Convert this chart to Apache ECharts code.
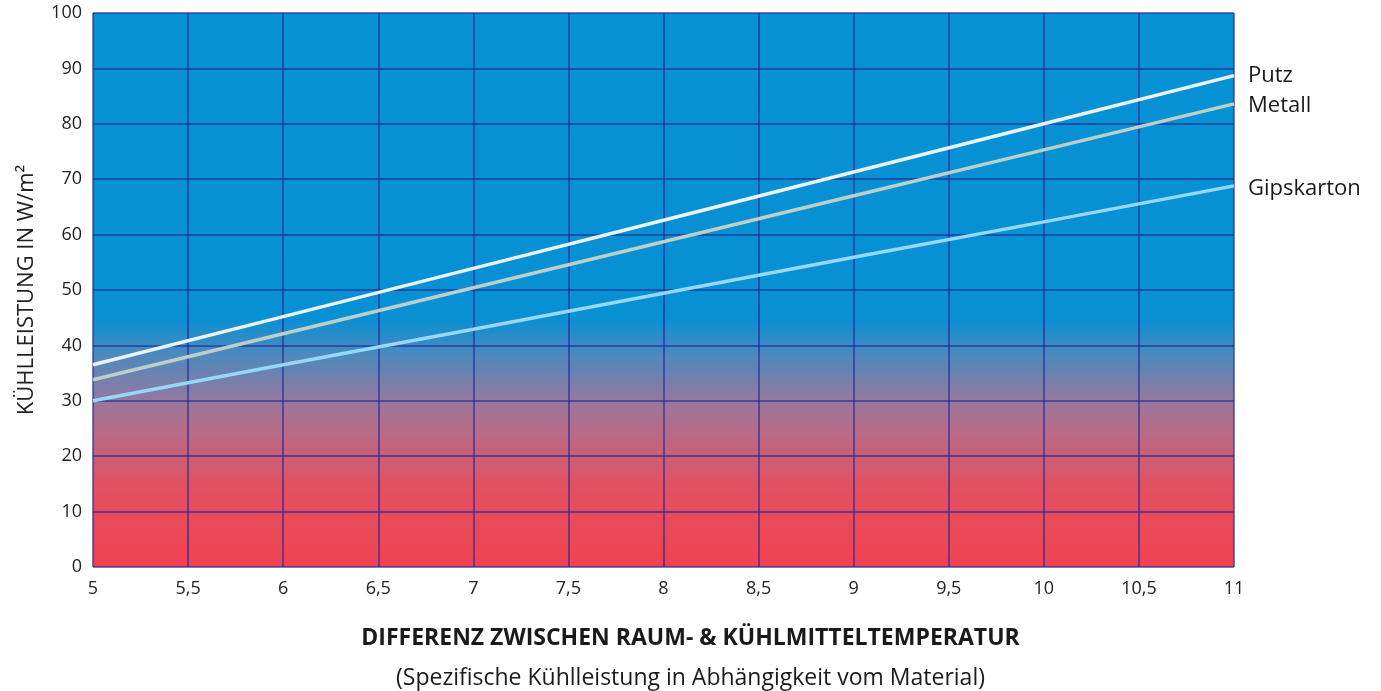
<!DOCTYPE html>
<html>
<head>
<meta charset="utf-8">
<script src="https://cdn.jsdelivr.net/npm/echarts@6/dist/echarts.min.js"></script>
<style>html,body{margin:0;padding:0;background:#fff;}#c{width:1381px;height:691px;}</style>
</head>
<body>
<div id="c"></div>
<script>
const xValues = [5, 6, 7, 8, 9, 10, 11];
const putz = [36.5, 45.2, 53.9, 62.6, 71.3, 80.0, 88.7];
const metall = [33.8, 42.1, 50.4, 58.7, 67.0, 75.3, 83.6];
const gipskarton = [30.0, 36.5, 42.9, 49.4, 55.9, 62.3, 68.8];
const seriesNames = ['Putz', 'Metall', 'Gipskarton'];
const xTitle = 'DIFFERENZ ZWISCHEN RAUM- & KÜHLMITTELTEMPERATUR';
const subTitle = '(Spezifische Kühlleistung in Abhängigkeit vom Material)';
const yTitle = 'KÜHLLEISTUNG IN W/m²';

const FONT = '"Open Sans", Lato, sans-serif';
const chart = echarts.init(document.getElementById('c'));
function pairs(arr){ return xValues.map((x,i)=>[x, arr[i]]); }
const lineColors = ['#eaf3fa', '#bccfc8', '#95d8f8'];
const dataSets = [putz, metall, gipskarton];

chart.setOption({
  animation: false,
  grid: {
    left: 93, right: 147, top: 13, bottom: 124,
    containLabel: false, outerBoundsMode: 'none',
    show: true, borderWidth: 0,
    backgroundColor: {
      type: 'linear', x: 0, y: 0, x2: 0, y2: 1,
      colorStops: [
        {offset: 0, color: '#0792d6'},
        {offset: 0.55, color: '#0790d3'},
        {offset: 0.62, color: '#4f89bd'},
        {offset: 0.72, color: '#a57494'},
        {offset: 0.85, color: '#e25263'},
        {offset: 1, color: '#f1414f'}
      ]
    }
  },
  title: [
    {text: xTitle, left: 'center', top: 622, textStyle: {fontFamily: FONT, fontSize: 23, fontWeight: 'bold', color: '#1a1a1a'}},
    {text: subTitle, left: 'center', top: 662, textStyle: {fontFamily: FONT, fontSize: 23, fontWeight: 'normal', color: '#1a1a1a'}}
  ],
  xAxis: {
    type: 'value', min: 5, max: 11, interval: 0.5,
    axisLine: {show: false}, axisTick: {show: false},
    axisLabel: {
      fontFamily: FONT, fontSize: 18, color: '#222', margin: 13,
      formatter: v => String(v).replace('.', ',')
    },
    splitLine: {show: true, lineStyle: {color: 'rgba(35,40,150,0.6)', width: 2}}
  },
  yAxis: {
    type: 'value', min: 0, max: 100, interval: 10,
    name: yTitle, nameLocation: 'middle', nameGap: 55, nameRotate: 90,
    nameTextStyle: {fontFamily: FONT, fontSize: 22, color: '#222'},
    axisLine: {show: false}, axisTick: {show: false},
    axisLabel: {fontFamily: FONT, fontSize: 18, color: '#222', margin: 11},
    splitLine: {show: true, lineStyle: {color: 'rgba(35,40,150,0.6)', width: 2}}
  },
  series: dataSets.map((d, i) => ({
    name: seriesNames[i], type: 'line', data: pairs(d),
    showSymbol: false, symbol: 'none',
    lineStyle: {color: lineColors[i], width: 3.5},
    endLabel: {
      show: true, formatter: '{a}', distance: 14,
      fontFamily: FONT, fontSize: 22, color: '#1a1a1a',
      offset: [0, i === 1 ? 2 : (i === 2 ? 3 : 0)]
    }
  }))
});
</script>
</body>
</html>
